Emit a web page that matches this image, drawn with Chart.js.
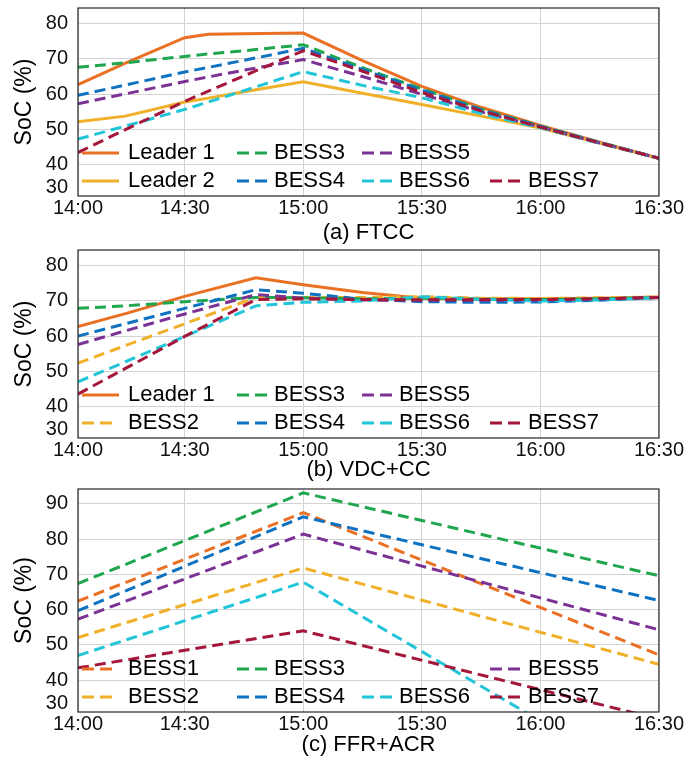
<!DOCTYPE html>
<html>
<head>
<meta charset="utf-8">
<script src="https://cdn.jsdelivr.net/npm/chart.js@4.4.1/dist/chart.umd.min.js"></script>
<style>
  html, body { margin: 0; padding: 0; background: #fff; }
  #page { position: relative; width: 684px; height: 758px; overflow: hidden; }
  canvas { position: absolute; left: 0; }
</style>
</head>
<body>
<div id="page">
  <canvas id="chartA" width="684" height="260" style="top:-14px"></canvas>
  <canvas id="chartB" width="684" height="255" style="top:228px"></canvas>
  <canvas id="chartC" width="684" height="291" style="top:467px"></canvas>
</div>
<script>
// time axis: minutes after 14:00
const timeTickMinutes = [0, 30, 60, 90, 120, 150];
const timeTickLabels = ['14:00', '14:30', '15:00', '15:30', '16:00', '16:30'];
const socTicksAB = [30, 40, 50, 60, 70, 80];
const socTicksC = [30, 40, 50, 60, 70, 80, 90];

// (a) FTCC
const namesA = ['Leader 1', 'Leader 2', 'BESS3', 'BESS4', 'BESS5', 'BESS6', 'BESS7'];
const minutesA = [3, 15, 30, 36, 45, 60, 75, 90, 105, 120, 135, 150];
const leader1A = [62.7, 68.8, 76.0, 77.0, 77.1, 77.3, 69.5, 62.2, 56.3, 51.2, 46.4, 41.9];
const leader2A = [52.2, 53.8, 57.8, 58.9, 60.7, 63.5, 60.3, 57.1, 53.8, 50.4, 46.2, 41.9];
const bess3A = [67.6, 68.9, 70.7, 71.4, 72.3, 74.0, 67.5, 61.5, 55.8, 51.0, 46.4, 41.9];
const bess4A = [59.7, 62.6, 66.3, 67.6, 69.6, 73.0, 67.0, 61.2, 55.6, 50.9, 46.3, 41.9];
const bess5A = [57.3, 60.1, 63.6, 64.9, 66.8, 69.8, 65.0, 60.0, 55.0, 50.7, 46.2, 41.9];
const bess6A = [47.3, 51.0, 55.7, 57.8, 61.0, 66.4, 62.5, 59.0, 54.5, 50.5, 46.1, 41.9];
const bess7A = [43.5, 50.0, 58.0, 60.9, 65.2, 72.3, 66.5, 60.5, 55.3, 50.7, 46.2, 41.9];

// (b) VDC+CC
const namesB = ['Leader 1', 'BESS2', 'BESS3', 'BESS4', 'BESS5', 'BESS6', 'BESS7'];
const minutesB = [3, 15, 30, 48, 60, 75, 90, 105, 120, 135, 150];
const leader1B = [62.7, 66.4, 71.3, 76.6, 74.6, 72.4, 70.8, 70.6, 70.6, 70.8, 71.1];
const bess2B = [52.3, 57.3, 63.5, 71.0, 71.0, 71.0, 71.2, 70.8, 70.7, 70.9, 71.1];
const bess3B = [67.9, 68.6, 69.8, 71.0, 70.9, 70.6, 70.8, 70.5, 70.4, 70.6, 71.0];
const bess4B = [60.0, 63.5, 67.9, 73.2, 72.2, 70.5, 69.8, 69.6, 69.7, 70.2, 71.0];
const bess5B = [57.6, 61.5, 66.3, 71.8, 70.8, 70.3, 70.3, 70.2, 70.3, 70.6, 71.0];
const bess6B = [47.0, 52.7, 59.9, 68.6, 69.6, 70.0, 71.2, 70.5, 70.0, 70.3, 70.9];
const bess7B = [43.5, 50.8, 59.9, 70.4, 70.6, 70.4, 70.3, 70.4, 70.4, 70.6, 71.0];

// (c) FFR+ACR
const namesC = ['BESS1', 'BESS2', 'BESS3', 'BESS4', 'BESS5', 'BESS6', 'BESS7'];
const minutesC = [3, 60, 150];
const bess1C = [62.4, 87.5, 47.2];
const bess2C = [52.1, 71.8, 44.5];
const bess3C = [67.4, 93.1, 69.6];
const bess4C = [59.7, 86.3, 62.6];
const bess5C = [57.3, 81.4, 54.3];
const bess6C = [47.0, 67.8, 8.8];
const bess7C = [43.5, 54.0, 29.0];

const COLORS = ['#EA7024', '#F0B02A', '#1FA64F', '#0F72C0', '#7B3295', '#22C5D8', '#A4173A'];
const GRID = '#d3d3d3';
const FONT = '"Liberation Sans", Arial, Helvetica, sans-serif';
const X_MIN = 3;

Chart.defaults.font.family = FONT;
Chart.defaults.color = '#000';

// legend slots: [dataset, column, row]
const LEG_LINE_X = [4, 159, 284, 412];
const LEG_TEXT_X = [50, 196, 321, 450];
const LEG_ROW_Y = [43, 15];
const slotsAB = [[0, 0, 0], [1, 0, 1], [2, 1, 0], [3, 1, 1], [4, 2, 0], [5, 2, 1], [6, 3, 1]];
const slotsC = [[0, 0, 0], [1, 0, 1], [2, 1, 0], [3, 1, 1], [4, 3, 0], [5, 2, 1], [6, 3, 1]];

function legendPlugin(slots) {
  return {
    id: 'boxLegend',
    afterDatasetsDraw(chart) {
      const { ctx, chartArea: a } = chart;
      ctx.save();
      ctx.font = '22px ' + FONT;
      ctx.textBaseline = 'middle';
      slots.forEach(([i, col, row]) => {
        const ds = chart.data.datasets[i];
        const y = a.bottom - LEG_ROW_Y[row];
        const x0 = a.left + LEG_LINE_X[col];
        const dashed = ds.borderDash.length > 0;
        ctx.strokeStyle = ds.borderColor;
        ctx.lineWidth = 3;
        ctx.setLineDash(dashed ? [12, 6] : []);
        ctx.beginPath();
        ctx.moveTo(x0, y);
        ctx.lineTo(x0 + (dashed ? 30 : 37), y);
        ctx.stroke();
        ctx.setLineDash([]);
        ctx.fillStyle = '#000';
        ctx.fillText(ds.label, a.left + LEG_TEXT_X[col], y);
      });
      ctx.restore();
    }
  };
}

const framePlugin = {
  id: 'frame',
  afterDraw(chart) {
    const { ctx, chartArea: a } = chart;
    ctx.save();
    ctx.strokeStyle = '#262626';
    ctx.lineWidth = 1.2;
    ctx.strokeRect(a.left, a.top, a.right - a.left, a.bottom - a.top);
    ctx.restore();
  }
};

function makePanel(id, minutes, names, values, solid, yMin, yMax, yTicks, caption, xHeight, slots) {
  const datasets = names.map((name, i) => ({
    label: name,
    data: minutes.map((m, k) => ({ x: m, y: values[i][k] })),
    borderColor: COLORS[i],
    borderWidth: 3,
    borderDash: solid.includes(i) ? [] : [11, 6],
    pointRadius: 0,
    tension: 0,
    order: names.length - i
  }));
  return new Chart(document.getElementById(id), {
    type: 'line',
    data: { datasets },
    options: {
      responsive: false,
      animation: false,
      layout: { padding: { top: 20, left: 0, right: 25, bottom: 0 } },
      plugins: { legend: { display: false }, tooltip: { enabled: false } },
      scales: {
        x: {
          type: 'linear',
          min: X_MIN,
          max: 150,
          afterBuildTicks: (scale) => {
            scale.ticks = timeTickMinutes.map(m => ({ value: Math.max(m, X_MIN) }));
          },
          afterFit: (scale) => { scale.height = xHeight; },
          ticks: {
            callback: (v, i) => timeTickLabels[i],
            font: { size: 20 },
            color: '#111',
            padding: 0,
            maxRotation: 0,
            autoSkip: false
          },
          grid: { color: GRID, drawTicks: false },
          border: { display: false },
          title: { display: true, text: caption, font: { size: 22 }, color: '#000', padding: 0 }
        },
        y: {
          min: yMin,
          max: yMax,
          // the "30" label sits a little above the bottom edge in the original
          afterBuildTicks: (scale) => {
            scale.ticks = yTicks.map(v => ({ value: v < yMin ? yMin + 2.3 : v }));
          },
          afterFit: (scale) => { scale.width = 78; },
          ticks: {
            callback: (v, i) => yTicks[i],
            font: { size: 20 },
            color: '#111',
            padding: 10
          },
          grid: {
            color: (c) => (c.index === 0 ? 'rgba(0,0,0,0)' : GRID),
            drawTicks: false
          },
          border: { display: false },
          title: { display: true, text: 'SoC (%)', font: { size: 23 }, color: '#000', padding: { top: 11, bottom: 0 } }
        }
      }
    },
    plugins: [legendPlugin(slots), framePlugin]
  });
}

makePanel('chartA', minutesA, namesA,
  [leader1A, leader2A, bess3A, bess4A, bess5A, bess6A, bess7A], [0, 1],
  31.2, 84.4, socTicksAB, '(a) FTCC', 50, slotsAB);

makePanel('chartB', minutesB, namesB,
  [leader1B, bess2B, bess3B, bess4B, bess5B, bess6B, bess7B], [0],
  31, 84.5, socTicksAB, '(b) VDC+CC', 45, slotsAB);

makePanel('chartC', minutesC, namesC,
  [bess1C, bess2C, bess3C, bess4C, bess5C, bess6C, bess7C], [],
  31, 94.2, socTicksC, '(c) FFR+ACR', 46, slotsC);
</script>
</body>
</html>
